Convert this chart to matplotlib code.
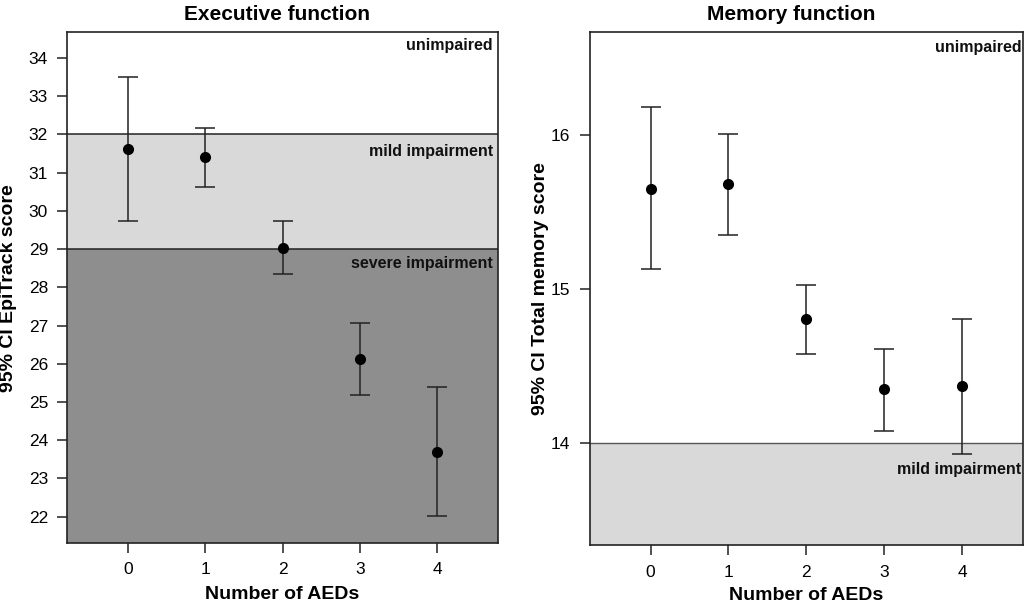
import matplotlib
matplotlib.use("Agg")
import matplotlib.pyplot as plt

plt.rcParams['font.family'] = ['Liberation Sans', 'DejaVu Sans']

# --- DATA ---
n_aeds = [0, 1, 2, 3, 4]

exec_mean = [31.63, 31.40, 29.04, 26.13, 23.70]
exec_lower = [29.74, 30.63, 28.34, 25.18, 22.02]
exec_upper = [33.51, 32.17, 29.74, 27.07, 25.38]

mem_mean = [15.65, 15.68, 14.81, 14.35, 14.37]
mem_lower = [15.13, 15.35, 14.58, 14.08, 13.93]
mem_upper = [16.18, 16.01, 15.03, 14.61, 14.81]

exec_cutoffs = [32, 29]   # unimpaired / mild / severe
mem_cutoffs = [14]        # unimpaired / mild

LIGHT = "#d9d9d9"
DARK = "#8e8e8e"


def draw_ci(ax, means, lower, upper):
    yerr = [[m - l for m, l in zip(means, lower)],
            [u - m for m, u in zip(means, upper)]]
    ax.errorbar(n_aeds, means, yerr=yerr, fmt='o', color='black',
                ecolor='#222222', elinewidth=1.1, capsize=7, capthick=1.1,
                markersize=7, zorder=5)


def style_axes(ax, xlab, ylab, title, xpad, ypad, title_x):
    ax.set_xlim(-0.78, 4.78)
    ax.set_xticks(n_aeds)
    ax.tick_params(direction='out', length=7, width=1.1, pad=7,
                   labelsize=12.5, color='#222222')
    for s in ax.spines.values():
        s.set_linewidth(1.2)
        s.set_color('#222222')
        s.set_zorder(6)
    ax.set_xlabel(xlab, fontsize=14, fontweight='bold', labelpad=xpad)
    ax.set_ylabel(ylab, fontsize=14, fontweight='bold', labelpad=ypad)
    ax.set_title(title, fontsize=15, fontweight='bold', pad=9, x=title_x)


fig = plt.figure(figsize=(10.24, 6.02), dpi=100)
ax1 = fig.add_axes([0.0659, 0.098, 0.420, 0.8483])
ax2 = fig.add_axes([0.576, 0.0942, 0.4229, 0.852])

# --- Executive function ---
ylo1, yhi1 = 21.31, 34.67
ax1.set_ylim(ylo1, yhi1)
ax1.axhspan(exec_cutoffs[1], exec_cutoffs[0], color=LIGHT, lw=0, zorder=0)
ax1.axhspan(ylo1, exec_cutoffs[1], color=DARK, lw=0, zorder=0)
for c in exec_cutoffs:
    ax1.axhline(c, color='#222222', lw=1.1, zorder=1)
ax1.set_yticks(range(22, 35))
draw_ci(ax1, exec_mean, exec_lower, exec_upper)
tk = dict(ha='right', va='center', fontsize=11.5, fontweight='bold', color='#111111')
ax1.text(4.72, 34.32, "unimpaired", **tk)
ax1.text(4.72, 31.55, "mild impairment", **tk)
ax1.text(4.72, 28.62, "severe impairment", **tk)
style_axes(ax1, "Number of AEDs", "95% CI EpiTrack score", "Executive function",
           6.5, 8.5, 0.487)

# --- Memory function ---
ylo2, yhi2 = 13.339, 16.666
ax2.set_ylim(ylo2, yhi2)
ax2.axhspan(ylo2, mem_cutoffs[0], color=LIGHT, lw=0, zorder=0)
ax2.axhline(mem_cutoffs[0], color='#555555', lw=1.0, zorder=1)
ax2.set_yticks([14, 15, 16])
draw_ci(ax2, mem_mean, mem_lower, mem_upper)
ax2.text(4.76, 16.565, "unimpaired", **tk)
ax2.text(4.76, 13.83, "mild impairment", **tk)
style_axes(ax2, "Number of AEDs", "95% CI Total memory score", "Memory function",
           5, 1, 0.466)

fig.savefig("out.png", dpi=100)
